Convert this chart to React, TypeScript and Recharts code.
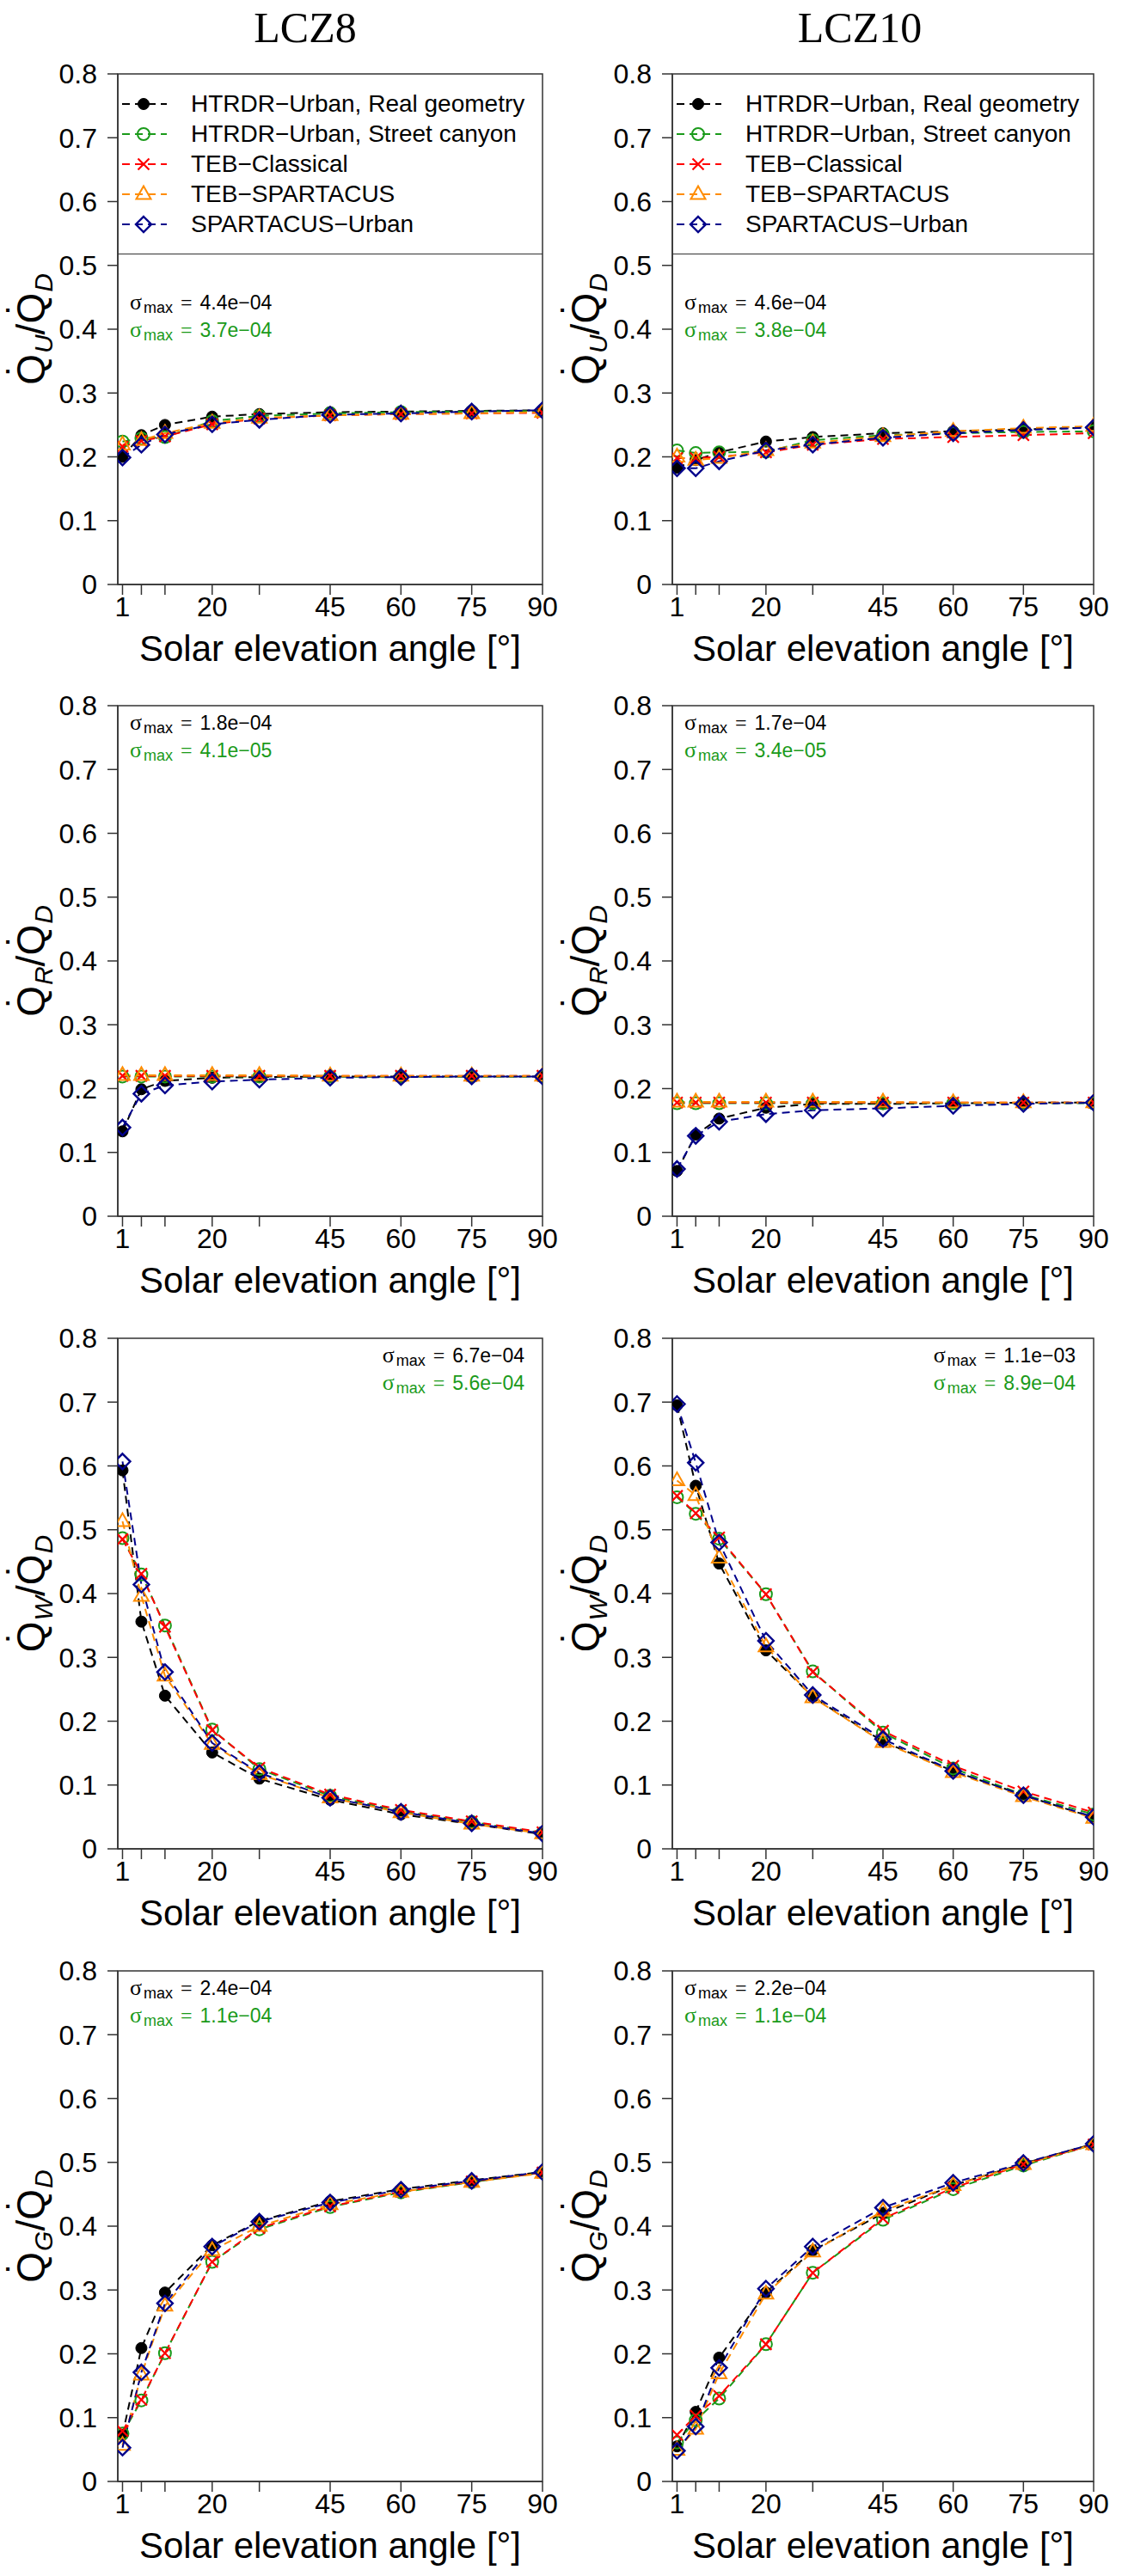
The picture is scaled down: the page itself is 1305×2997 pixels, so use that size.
import React from "react";
import { LineChart, Line, XAxis, YAxis, ReferenceArea, Legend } from "recharts";

// solar elevation angles (deg)
const angles = [1, 5, 10, 20, 30, 45, 60, 75, 90];
const xTicks = [1, 5, 10, 20, 30, 45, 60, 75, 90];
const xTickLabels = [1, 20, 45, 60, 75, 90];
const yTicks = [0, 0.1, 0.2, 0.3, 0.4, 0.5, 0.6, 0.7, 0.8];

// LCZ8 - Q_U / Q_D
const u8Real = [0.2, 0.234, 0.25, 0.263, 0.267, 0.27, 0.271, 0.272, 0.273];
const u8Canyon = [0.224, 0.229, 0.231, 0.256, 0.264, 0.268, 0.27, 0.271, 0.272];
const u8Classical = [0.216, 0.225, 0.232, 0.251, 0.26, 0.265, 0.267, 0.268, 0.269];
const u8TebSp = [0.219, 0.226, 0.237, 0.253, 0.261, 0.265, 0.267, 0.268, 0.27];
const u8Spartacus = [0.199, 0.219, 0.235, 0.251, 0.258, 0.266, 0.268, 0.271, 0.273];

// LCZ10 - Q_U / Q_D
const u10Real = [0.183, 0.195, 0.207, 0.224, 0.231, 0.237, 0.24, 0.243, 0.246];
const u10Canyon = [0.21, 0.206, 0.207, 0.208, 0.226, 0.234, 0.237, 0.239, 0.24];
const u10Classical = [0.198, 0.198, 0.2, 0.207, 0.219, 0.228, 0.231, 0.234, 0.237];
const u10TebSp = [0.2, 0.195, 0.198, 0.21, 0.222, 0.232, 0.24, 0.245, 0.248];
const u10Spartacus = [0.182, 0.182, 0.193, 0.21, 0.219, 0.23, 0.237, 0.242, 0.246];

// LCZ8 - Q_R / Q_D
const r8Real = [0.133, 0.199, 0.212, 0.217, 0.218, 0.219, 0.219, 0.219, 0.219];
const r8Canyon = [0.219, 0.219, 0.219, 0.219, 0.219, 0.219, 0.219, 0.219, 0.219];
const r8Classical = [0.22, 0.22, 0.22, 0.22, 0.22, 0.22, 0.22, 0.22, 0.22];
const r8TebSp = [0.221, 0.221, 0.221, 0.221, 0.221, 0.22, 0.22, 0.22, 0.22];
const r8Spartacus = [0.139, 0.192, 0.205, 0.211, 0.214, 0.217, 0.218, 0.219, 0.219];

// LCZ10 - Q_R / Q_D
const r10Real = [0.071, 0.128, 0.153, 0.17, 0.176, 0.176, 0.177, 0.178, 0.178];
const r10Canyon = [0.177, 0.177, 0.177, 0.177, 0.177, 0.177, 0.177, 0.177, 0.177];
const r10Classical = [0.178, 0.178, 0.178, 0.178, 0.178, 0.178, 0.178, 0.178, 0.178];
const r10TebSp = [0.179, 0.179, 0.179, 0.179, 0.179, 0.179, 0.178, 0.178, 0.178];
const r10Spartacus = [0.074, 0.126, 0.148, 0.16, 0.166, 0.169, 0.173, 0.176, 0.178];

// LCZ8 - Q_W / Q_D
const w8Real = [0.593, 0.356, 0.24, 0.151, 0.11, 0.077, 0.054, 0.039, 0.023];
const w8Canyon = [0.487, 0.43, 0.35, 0.187, 0.125, 0.083, 0.059, 0.042, 0.025];
const w8Classical = [0.485, 0.431, 0.348, 0.186, 0.127, 0.085, 0.061, 0.043, 0.026];
const w8TebSp = [0.513, 0.396, 0.271, 0.164, 0.117, 0.08, 0.057, 0.039, 0.024];
const w8Spartacus = [0.607, 0.414, 0.277, 0.166, 0.119, 0.08, 0.058, 0.04, 0.024];

// LCZ10 - Q_W / Q_D
const w10Real = [0.695, 0.569, 0.447, 0.311, 0.238, 0.168, 0.122, 0.084, 0.049];
const w10Canyon = [0.551, 0.525, 0.486, 0.399, 0.278, 0.182, 0.126, 0.085, 0.054];
const w10Classical = [0.553, 0.526, 0.488, 0.399, 0.277, 0.185, 0.13, 0.09, 0.057];
const w10TebSp = [0.577, 0.554, 0.456, 0.317, 0.237, 0.167, 0.12, 0.082, 0.048];
const w10Spartacus = [0.697, 0.605, 0.48, 0.326, 0.241, 0.172, 0.122, 0.084, 0.05];

// LCZ8 - Q_G / Q_D
const g8Real = [0.073, 0.209, 0.296, 0.37, 0.408, 0.439, 0.458, 0.472, 0.485];
const g8Canyon = [0.075, 0.127, 0.201, 0.344, 0.395, 0.43, 0.453, 0.469, 0.484];
const g8Classical = [0.079, 0.128, 0.201, 0.344, 0.397, 0.431, 0.454, 0.47, 0.484];
const g8TebSp = [0.057, 0.167, 0.275, 0.362, 0.4, 0.434, 0.454, 0.469, 0.483];
const g8Spartacus = [0.053, 0.171, 0.279, 0.368, 0.407, 0.437, 0.457, 0.471, 0.485];

// LCZ10 - Q_G / Q_D
const g10Real = [0.055, 0.109, 0.194, 0.296, 0.362, 0.42, 0.464, 0.498, 0.529];
const g10Canyon = [0.061, 0.096, 0.13, 0.215, 0.327, 0.41, 0.458, 0.495, 0.528];
const g10Classical = [0.073, 0.103, 0.134, 0.215, 0.327, 0.412, 0.46, 0.497, 0.528];
const g10TebSp = [0.049, 0.082, 0.169, 0.294, 0.36, 0.424, 0.464, 0.497, 0.528];
const g10Spartacus = [0.048, 0.086, 0.178, 0.302, 0.368, 0.429, 0.468, 0.499, 0.529];

// sigma_max annotations (panel order: U8, U10, R8, R10, W8, W10, G8, G10)
const sigmaBlack = ["4.4e−04", "4.6e−04", "1.8e−04", "1.7e−04", "6.7e−04", "1.1e−03", "2.4e−04", "2.2e−04"];
const sigmaGreen = ["3.7e−04", "3.8e−04", "4.1e−05", "3.4e−05", "5.6e−04", "8.9e−04", "1.1e−04", "1.1e−04"];

const zoneTitles = ["LCZ8", "LCZ10"];
const fluxSubs = ["U", "R", "W", "G"];

const seriesKeys = ["real", "canyon", "classical", "tebsp", "spartacus"];
const seriesNames = [
  "HTRDR−Urban, Real geometry",
  "HTRDR−Urban, Street canyon",
  "TEB−Classical",
  "TEB−SPARTACUS",
  "SPARTACUS−Urban",
];
const seriesColors = ["#000000", "#1A9A1A", "#FF0000", "#FF8C00", "#00008B"];
const seriesShapes = ["filled", "circle", "cross", "triangle", "diamond"];

const SANS = "'Liberation Sans', Arial, sans-serif";
const SERIF = "'Liberation Serif', 'Times New Roman', serif";
const AXIS = "#333";

// layout
const colLeft = [0, 650];
const chartWidth = [650, 655];
const yAxisWidth = [137, 132];
const marginRight = [19, 33];
const rowTop = [0, 735, 1471, 2207];
const marginTop = 86;
const plotHeight = 594;
const xAxisHeight = 100;

const panelSeries = [
  [u8Real, u8Canyon, u8Classical, u8TebSp, u8Spartacus],
  [u10Real, u10Canyon, u10Classical, u10TebSp, u10Spartacus],
  [r8Real, r8Canyon, r8Classical, r8TebSp, r8Spartacus],
  [r10Real, r10Canyon, r10Classical, r10TebSp, r10Spartacus],
  [w8Real, w8Canyon, w8Classical, w8TebSp, w8Spartacus],
  [w10Real, w10Canyon, w10Classical, w10TebSp, w10Spartacus],
  [g8Real, g8Canyon, g8Classical, g8TebSp, g8Spartacus],
  [g10Real, g10Canyon, g10Classical, g10TebSp, g10Spartacus],
];

const buildRows = (series: number[][]) =>
  angles.map((a, i) => {
    const row: Record<string, number> = { angle: a };
    seriesKeys.forEach((k, j) => (row[k] = series[j][i]));
    return row;
  });

const Marker = ({ kind, cx, cy, color }: { kind: string; cx: number; cy: number; color: string }) => {
  if (kind === "filled") return <circle cx={cx} cy={cy} r={6.5} fill={color} stroke={color} strokeWidth={1} />;
  if (kind === "circle") return <circle cx={cx} cy={cy} r={7} fill="none" stroke={color} strokeWidth={2} />;
  if (kind === "cross") {
    const d = 6.5;
    return (
      <path
        d={`M${cx - d},${cy - d}L${cx + d},${cy + d}M${cx - d},${cy + d}L${cx + d},${cy - d}`}
        stroke={color}
        strokeWidth={2.2}
        fill="none"
      />
    );
  }
  if (kind === "triangle")
    return (
      <polygon
        points={`${cx},${cy - 9.5} ${cx - 8.5},${cy + 5.5} ${cx + 8.5},${cy + 5.5}`}
        fill="none"
        stroke={color}
        strokeWidth={2}
      />
    );
  return (
    <polygon
      points={`${cx},${cy - 9} ${cx + 9},${cy} ${cx},${cy + 9} ${cx - 9},${cy}`}
      fill="none"
      stroke={color}
      strokeWidth={2.4}
    />
  );
};

const LegendBox = () => (
  <div style={{ position: "relative", width: "100%", height: 210, borderBottom: `1.5px solid ${AXIS}`, boxSizing: "border-box" }}>
    {seriesNames.map((name, i) => (
      <div
        key={name}
        style={{ position: "absolute", left: 0, top: 35 * (i + 1) - 17, height: 34, display: "flex", alignItems: "center" }}
      >
        <svg width={80} height={34} style={{ display: "block" }}>
          <line x1={5} x2={57} y1={17} y2={17} stroke={seriesColors[i]} strokeWidth={2} strokeDasharray="9 6" />
          <Marker kind={seriesShapes[i]} cx={30} cy={17} color={seriesColors[i]} />
        </svg>
        <span style={{ marginLeft: 5, fontFamily: SANS, fontSize: 28, color: "#000", whiteSpace: "nowrap" }}>{name}</span>
      </div>
    ))}
  </div>
);

const renderXLabel = (props: any) => {
  const vb = props.viewBox;
  return (
    <text x={vb.x + vb.width / 2} y={vb.y + 89} textAnchor="middle" fontFamily={SANS} fontSize={42} fill="#000">
      Solar elevation angle [°]
    </text>
  );
};

const Panel = ({ index }: { index: number }) => {
  const row = Math.floor(index / 2);
  const col = index % 2;
  const data = buildRows(panelSeries[index]);
  const plotWidth = chartWidth[col] - yAxisWidth[col] - marginRight[col];
  return (
    <div style={{ position: "absolute", left: colLeft[col], top: rowTop[row] }}>
      <LineChart
        width={chartWidth[col]}
        height={marginTop + plotHeight + xAxisHeight}
        data={data}
        margin={{ top: marginTop, right: marginRight[col], bottom: 0, left: 0 }}
      >
        <XAxis
          dataKey="angle"
          type="number"
          domain={[0, 90]}
          allowDataOverflow
          ticks={xTicks}
          interval={0}
          tickFormatter={(v: number) => (xTickLabels.includes(v) ? String(v) : "")}
          tickSize={12}
          tickMargin={2}
          height={xAxisHeight}
          stroke={AXIS}
          axisLine={{ stroke: AXIS, strokeWidth: 1.5 }}
          tickLine={{ stroke: AXIS, strokeWidth: 1.5 }}
          tick={{ fontFamily: SANS, fontSize: 32, fill: "#000" }}
          label={renderXLabel}
        />
        <YAxis
          type="number"
          domain={[0, 0.8]}
          allowDataOverflow
          ticks={yTicks}
          interval={0}
          tickFormatter={(v: number) => (v === 0 ? "0" : v.toFixed(1))}
          tickSize={12}
          tickMargin={12}
          width={yAxisWidth[col]}
          axisLine={{ stroke: AXIS, strokeWidth: 1.5 }}
          tickLine={{ stroke: AXIS, strokeWidth: 1.5 }}
          tick={{ fontFamily: SANS, fontSize: 32, fill: "#000" }}
        />
        <ReferenceArea x1={0} x2={90} y1={0} y2={0.8} fill="none" stroke={AXIS} strokeWidth={1.5} />
        {row === 0 && (
          <Legend
            layout="vertical"
            align="center"
            verticalAlign="middle"
            content={() => <LegendBox />}
            wrapperStyle={{ left: yAxisWidth[col], top: marginTop, width: plotWidth, height: 210, margin: 0 }}
          />
        )}
        {seriesKeys.map((k, j) => (
          <Line
            key={k}
            dataKey={k}
            name={seriesNames[j]}
            type="linear"
            stroke={seriesColors[j]}
            strokeWidth={2}
            strokeDasharray="9 6"
            isAnimationActive={false}
            activeDot={false}
            dot={(p: any) =>
              p.cx == null ? (
                <g key={`${k}-${p.index}`} />
              ) : (
                <Marker key={`${k}-${p.index}`} kind={seriesShapes[j]} cx={p.cx} cy={p.cy} color={seriesColors[j]} />
              )
            }
          />
        ))}
      </LineChart>
    </div>
  );
};

// rotated flux-ratio label, e.g. Q̇_U / Q̇_D
const YLabel = ({ cx, cy, sub }: { cx: number; cy: number; sub: string }) => {
  const F = 46;
  const S = 30;
  const qw = 0.778 * F;
  const dw = 0.333 * F;
  return (
    <g transform={`translate(${cx} ${cy}) rotate(-90)`}>
      <text x={0} y={12} textAnchor="middle" fontFamily={SANS} fontSize={F} fill="#000">
        <tspan>Q</tspan>
        <tspan dx={-(qw + dw) / 2} dy={-11}>˙</tspan>
        <tspan dx={(qw - dw) / 2 + 1} dy={20} fontSize={S} fontStyle="italic">{sub}</tspan>
        <tspan dy={-9}>/Q</tspan>
        <tspan dx={-(qw + dw) / 2} dy={-11}>˙</tspan>
        <tspan dx={(qw - dw) / 2 + 1} dy={20} fontSize={S} fontStyle="italic">D</tspan>
      </text>
    </g>
  );
};

const SigmaText = ({ x, y, value, color, anchor }: { x: number; y: number; value: string; color: string; anchor: "start" | "end" }) => (
  <text x={x} y={y} textAnchor={anchor} fontFamily={SANS} fontSize={23} fill={color}>
    <tspan fontFamily={SERIF} fontSize={26}>σ</tspan>
    <tspan fontSize={18} dx={2} dy={4}>max</tspan>
    <tspan dy={-4} fontFamily={SERIF} fontSize={24} dx={9}>=</tspan>
    <tspan dx={9}>{value}</tspan>
  </text>
);

const Overlay = () => {
  const items: React.ReactNode[] = [];
  for (let i = 0; i < 8; i++) {
    const row = Math.floor(i / 2);
    const col = i % 2;
    const plotLeft = colLeft[col] + yAxisWidth[col];
    const plotRight = colLeft[col] + chartWidth[col] - marginRight[col];
    const plotTop = rowTop[row] + marginTop;
    const rightSide = row === 2;
    const base = row === 0 ? 274 : 28;
    const x = rightSide ? plotRight - 21 : plotLeft + 14;
    const anchor = rightSide ? "end" : "start";
    items.push(
      <YLabel key={`y${i}`} cx={plotLeft - 97} cy={plotTop + plotHeight / 2} sub={fluxSubs[row]} />,
      <SigmaText key={`b${i}`} x={x} y={plotTop + base} value={sigmaBlack[i]} color="#000" anchor={anchor} />,
      <SigmaText key={`g${i}`} x={x} y={plotTop + base + 32} value={sigmaGreen[i]} color={seriesColors[1]} anchor={anchor} />
    );
  }
  return (
    <svg width={1305} height={2997} style={{ position: "absolute", left: 0, top: 0, pointerEvents: "none", overflow: "visible" }}>
      <text x={355} y={49} textAnchor="middle" fontFamily={SERIF} fontSize={50} fill="#000">{zoneTitles[0]}</text>
      <text x={1000} y={49} textAnchor="middle" fontFamily={SERIF} fontSize={50} fill="#000">{zoneTitles[1]}</text>
      {items}
    </svg>
  );
};

export default function App() {
  return (
    <div style={{ position: "absolute", left: 0, top: 0, width: 1305, height: 2997, background: "#fff" }}>
      {Array.from({ length: 8 }, (_, i) => (
        <Panel key={i} index={i} />
      ))}
      <Overlay />
    </div>
  );
}
